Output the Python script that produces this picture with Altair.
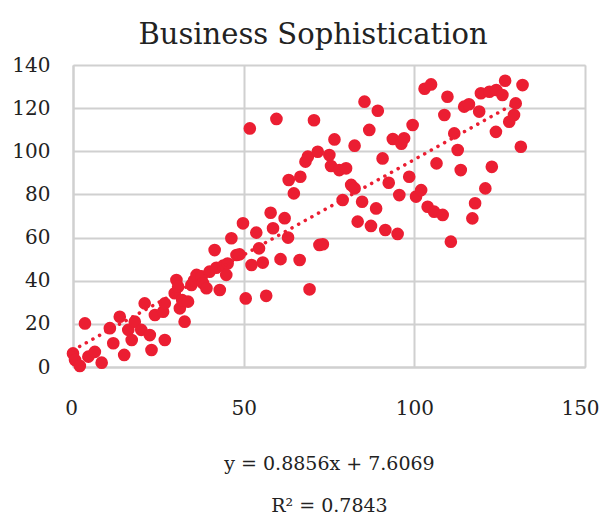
import altair as alt
import pandas as pd

x_vals = [0.0, 0.6, 2.0, 3.5, 4.5, 6.4, 8.4, 10.8, 11.8, 13.7, 15.0, 16.2, 17.2, 18.1, 20.0,
          21.0, 22.5, 23.0, 24.0, 26.4, 26.9, 26.9, 29.8, 30.3, 30.8, 31.3, 32.0, 32.7, 33.7,
          34.7, 35.4, 36.2, 37.7, 38.1, 39.1, 40.0, 41.5, 42.0, 43.0, 44.0, 44.9, 45.3, 46.4,
          47.9, 48.8, 49.8, 50.6, 51.8, 52.3, 53.7, 54.5, 55.6, 56.6, 57.9, 58.6, 59.6, 60.8,
          62.0, 63.0, 63.2, 64.7, 66.4, 66.6, 68.1, 68.8, 69.3, 70.6, 71.7, 72.2, 73.2, 75.1,
          75.6, 76.6, 78.0, 79.0, 80.0, 81.5, 82.5, 82.5, 83.4, 84.7, 85.4, 86.8, 87.3, 88.8,
          89.3, 90.7, 91.5, 92.5, 93.7, 95.1, 95.6, 96.2, 97.0, 98.5, 99.5, 100.5, 102.0, 103.0,
          104.9, 103.9, 105.8, 106.5, 108.3, 108.8, 109.7, 110.7, 111.7, 112.7, 113.6, 114.6,
          116.0, 117.0, 117.8, 119.0, 119.5, 120.8, 122.0, 122.7, 123.9, 124.0, 125.8, 126.6,
          127.8, 129.2, 129.7, 131.2, 131.7]
y_vals = [6.3, 3.2, 0.5, 20.2, 4.8, 7.0, 2.0, 18.0, 11.0, 23.3, 5.6, 17.2, 12.5, 21.0, 17.2,
          29.5, 14.8, 7.9, 24.1, 25.6, 12.5, 29.5, 34.2, 40.3, 37.2, 27.2, 31.0, 21.0, 30.3,
          38.0, 40.0, 42.7, 42.0, 38.8, 36.5, 44.2, 54.2, 46.0, 35.7, 47.0, 42.7, 48.0, 59.7,
          51.9, 52.2, 66.6, 31.8, 110.6, 47.3, 62.3, 55.0, 48.4, 33.0, 71.5, 64.3, 115.0, 50.0,
          69.0, 60.0, 86.7, 80.5, 49.6, 88.2, 95.2, 97.5, 36.0, 114.4, 99.8, 56.6, 56.9, 98.3,
          93.2, 105.5, 91.3, 77.4, 92.1, 84.4, 82.8, 102.6, 67.4, 76.6, 123.0, 109.9, 65.4, 73.5,
          118.8, 96.7, 63.5, 85.4, 105.7, 61.7, 79.7, 103.5, 106.0, 88.2, 112.2, 79.0, 82.0, 129.0,
          131.0, 74.3, 72.0, 94.4, 70.5, 116.8, 125.3, 58.1, 108.3, 100.6, 91.3, 120.7,
          121.8, 68.9, 75.9, 118.4, 126.9, 82.8, 127.6, 92.8, 109.0, 128.4, 126.1, 132.7,
          113.7, 116.8, 122.2, 102.1, 130.7]

title_text = "Business Sophistication"
equation_lines = ["y = 0.8856x + 7.6069", "R² = 0.7843"]
x_ticks = [0, 50, 100, 150]
y_ticks = [0, 20, 40, 60, 80, 100, 120, 140]

df = pd.DataFrame({"x": x_vals, "y": y_vals})

RED = "#EB1E32"
GRID = "#D0D0D0"
FONT = "DejaVu Serif"
TXT = "#222222"

xenc = alt.X("x:Q", scale=alt.Scale(domain=[0, 150], nice=False),
             axis=alt.Axis(values=x_ticks, title=equation_lines, titleFont=FONT,
                           titleFontSize=19, titleFontWeight="normal", titleColor=TXT,
                           titlePadding=36, titleLineHeight=42,
                           labelPadding=31, labelFontSize=20, labelFont=FONT,
                           labelFlush=False, labelOverlap=False,
                           labelOffset=alt.expr("datum.value == 150 ? -5 : (datum.value == 0 ? -2 : 0)"),
                           labelColor=TXT, ticks=False, domainColor=GRID, domainWidth=2,
                           gridColor=GRID, gridWidth=2))
yenc = alt.Y("y:Q", scale=alt.Scale(domain=[0, 140], nice=False),
             axis=alt.Axis(values=y_ticks, title=None, labelPadding=23, labelFontSize=20,
                           labelFont=FONT, labelColor=TXT, ticks=False,
                           labelFlush=False, labelOverlap=False,
                           domainColor=GRID, domainWidth=2, gridColor=GRID, gridWidth=2))

points = alt.Chart(df).mark_circle(size=160, color=RED, opacity=1).encode(x=xenc, y=yenc)

trend = alt.Chart(df).transform_regression("x", "y").mark_line(
    color=RED, strokeWidth=3.5, strokeDash=[0.1, 7.5], strokeCap="round"
).encode(x="x:Q", y="y:Q")

chart = (points + trend).properties(
    width=512, height=302,
    title=alt.TitleParams(title_text, font=FONT, fontSize=29, fontWeight="normal",
                          color=TXT, anchor="middle", offset=5, dx=-16),
    autosize=alt.AutoSizeParams(type="none"),
    padding={"left": 65, "top": 57, "right": 15, "bottom": 150},
).configure_view(stroke=GRID, strokeWidth=2).configure(background="white")

chart.save("out.html", embed_options={"renderer": "svg", "actions": False})
